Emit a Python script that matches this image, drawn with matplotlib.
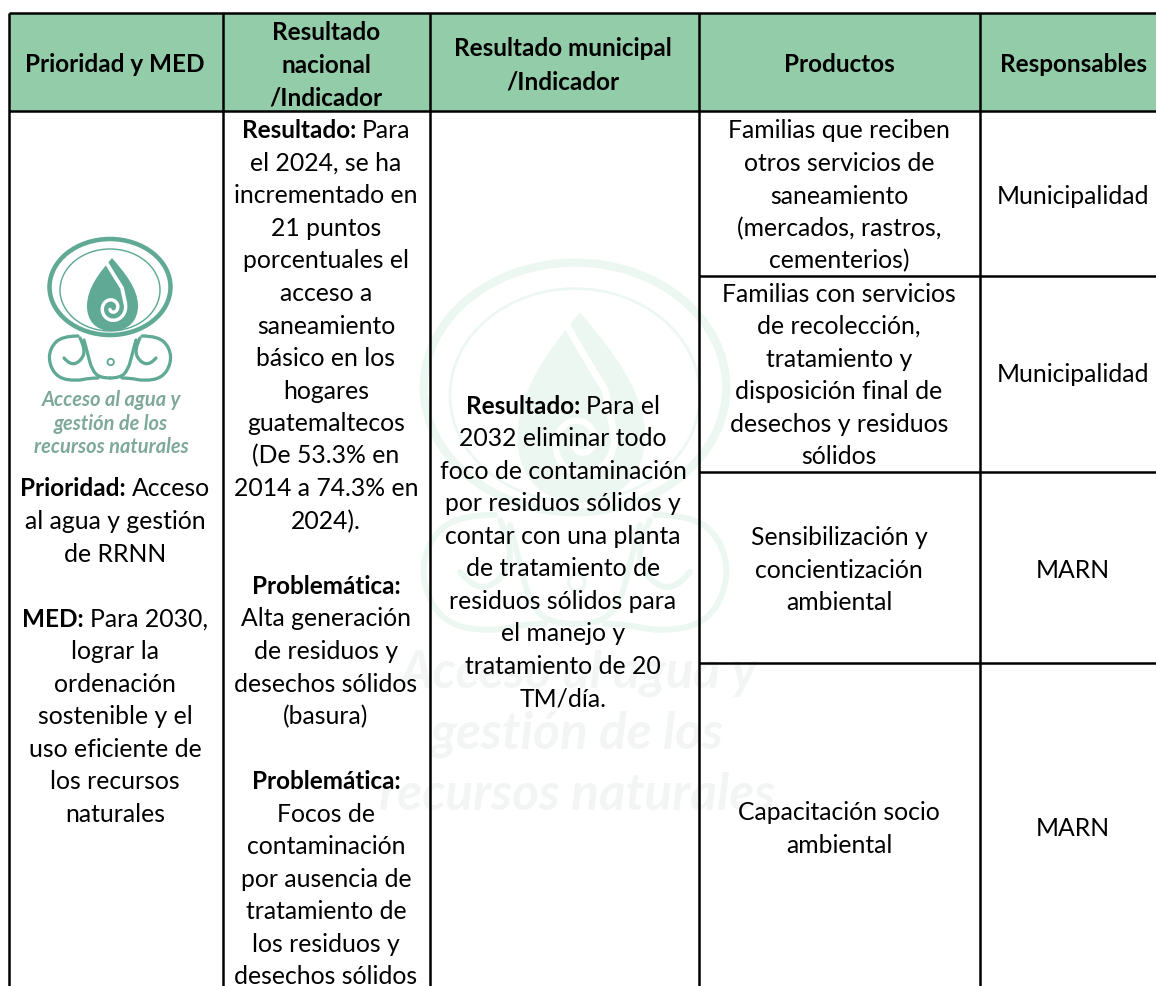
import numpy as np
import matplotlib
matplotlib.use('Agg')
import matplotlib.pyplot as plt
from matplotlib.path import Path
from matplotlib.patches import PathPatch, Ellipse, Rectangle

plt.rcParams['font.family'] = ['Lato', 'DejaVu Sans']

# table text
headers = [['Prioridad y MED'], ['Resultado', 'nacional', '/Indicador'],
           ['Resultado municipal', '/Indicador'], ['Productos'], ['Responsables']]
header_y = [[63], [31.7, 64.3, 97], [48, 81.5], [63], [63]]

prioridad = [('Prioridad:', 'Acceso'), 'al agua y gestión', 'de RRNN', '',
             ('MED:', 'Para 2030,'), 'lograr la', 'ordenación', 'sostenible y el',
             'uso eficiente de', 'los recursos', 'naturales']
nacional = [('Resultado:', 'Para'), 'el 2024, se ha', 'incrementado en', '21 puntos',
            'porcentuales el', 'acceso a', 'saneamiento', 'básico en los', 'hogares',
            'guatemaltecos', '(De 53.3% en', '2014 a 74.3% en', '2024).', '',
            ('Problemática:', ''), 'Alta generación', 'de residuos y', 'desechos sólidos',
            '(basura)', '', ('Problemática:', ''), 'Focos de', 'contaminación',
            'por ausencia de', 'tratamiento de', 'los residuos y', 'desechos sólidos']
municipal = [('Resultado:', 'Para el'), '2032 eliminar todo', 'foco de contaminación',
             'por residuos sólidos y', 'contar con una planta', 'de tratamiento de',
             'residuos sólidos para', 'el manejo y', 'tratamiento de 20', 'TM/día.']
productos = [['Familias que reciben', 'otros servicios de', 'saneamiento',
              '(mercados, rastros,', 'cementerios)'],
             ['Familias con servicios', 'de recolección,', 'tratamiento y',
              'disposición final de', 'desechos y residuos', 'sólidos'],
             ['Sensibilización y', 'concientización', 'ambiental'],
             ['Capacitación socio', 'ambiental']]
productos_y = [130, 293, 536.7, 812]
responsables = ['Municipalidad', 'Municipalidad', 'MARN', 'MARN']
responsables_y = [195, 374, 569, 828]
logo_text = ['Acceso al agua y', 'gestión de los', 'recursos naturales']

# layout in pixels
col_x = [8.5, 222.5, 430, 699, 980]
col_c = [115, 326, 563, 839, 1073]
row_y = [13, 111, 276, 472, 663]
line_h = 32.55
fs = 17.8
fs_head = 17.5
green = '#93CCA8'

fig = plt.figure(figsize=(11.56, 9.86), dpi=100)
ax = fig.add_axes([0, 0, 1, 1])
ax.set_xlim(0, 1156)
ax.set_ylim(986, 0)
ax.axis('off')
rend = fig.canvas.get_renderer()


def put_line(xc, y, line, size=fs, weight='normal'):
    base = y + 8.5
    if isinstance(line, tuple):
        b, r = line
        t1 = ax.text(0, base, b, fontsize=fs_head, fontweight='bold', color='black', va='baseline', zorder=5)
        w1 = t1.get_window_extent(rend).width
        if r:
            t2 = ax.text(0, base, r, fontsize=size, color='black', va='baseline', zorder=5)
            w2 = t2.get_window_extent(rend).width
            gap = 6
            x0 = xc - (w1 + gap + w2) / 2
            t1.set_x(x0)
            t2.set_x(x0 + w1 + gap)
        else:
            t1.set_x(xc - w1 / 2)
    elif line:
        ax.text(xc, base, line, fontsize=size, fontweight=weight, color='black',
                ha='center', va='baseline', zorder=5)


def draw_logo(cx, top, sx, sy, col, txt_col, fsize, lw_scale, z, text_dy=0):
    # shapes are given relative to the small logo, ring centre at (110, 287)
    def tr(x, y):
        return cx + (np.asarray(x, dtype=float) - 110) * sx, top + (np.asarray(y, dtype=float) - 238) * sy

    def ell(x, y, rx, ry, lw):
        xx, yy = tr(x, y)
        ax.add_patch(Ellipse((xx, yy), 2 * rx * sx, 2 * ry * sy, fc='none', ec=col, lw=lw * lw_scale, zorder=z))

    def curve(x, y, lw, c=col):
        xx, yy = tr(x, y)
        ax.plot(xx, yy, color=c, lw=lw * lw_scale, solid_capstyle='round', zorder=z)

    def smooth(pts, lw):
        # quadratic segments through the midpoints of the control points
        xx, yy = tr([p[0] for p in pts], [p[1] for p in pts])
        p = np.column_stack([xx, yy])
        verts = [p[0]]
        codes = [Path.MOVETO]
        for i in range(1, len(p) - 1):
            end = p[i + 1] if i == len(p) - 2 else (p[i] + p[i + 1]) / 2
            verts += [p[i], end]
            codes += [Path.CURVE3, Path.CURVE3]
        ax.add_patch(PathPatch(Path(verts, codes), fc='none', ec=col, lw=lw * lw_scale,
                               capstyle='round', zorder=z))

    ell(110, 287, 60.5, 48, 2.5)
    ell(110, 290, 50, 41, 0.8)
    # drop
    dx, dy = tr(np.array([112, 100, 87, 87, 87, 95, 112, 129, 138, 138, 138, 124, 112]),
                np.array([258, 272, 288, 306, 320, 331, 331, 331, 320, 306, 288, 272, 258]))
    codes = [Path.MOVETO] + [Path.CURVE4] * 12
    ax.add_patch(PathPatch(Path(np.column_stack([dx, dy]), codes), fc=col, ec='none', zorder=z))
    # white spiral in the drop
    a = np.linspace(-0.3, 4.6 * np.pi / 2 + 1.6, 80)
    r = 14 - 11.5 * (a - a[0]) / (a[-1] - a[0])
    sp_x = 112 + r * np.cos(a)
    sp_y = 308 + r * np.sin(a) * 1.05
    curve(np.r_[106, 112, 122, sp_x[0]], np.r_[262, 272, 288, sp_y[0]], 2.1, 'white')
    curve(sp_x, sp_y, 1.9, 'white')
    # scrolls and bell under the ring
    for sgn in (-1, 1):
        def m(pts):
            return [(110 + sgn * (110 - px), py) for px, py in pts]
        smooth(m([(78, 336), (62, 336), (50, 348), (49, 364), (58, 378), (76, 381),
                  (90, 378), (98, 378)]), 1.8)
        smooth(m([(80, 338), (86, 350), (80, 362), (70, 365), (64, 358)]), 1.8)
        smooth(m([(84, 340), (88, 355), (92, 370), (100, 378), (110, 378)]), 1.8)
    ell(110.7, 362, 3.2, 3.2, 1.0)
    # logo wording
    for i, s in enumerate(logo_text):
        xx, yy = tr(111, 400 + 23.5 * i)
        ax.text(xx, yy + text_dy, s, fontsize=fsize, fontweight='bold', fontstyle='italic',
                color=txt_col, ha='center', va='center', zorder=z)


# header band
ax.add_patch(Rectangle((col_x[0], row_y[0]), 1156 - col_x[0], row_y[1] - row_y[0], fc=green, ec='none', zorder=1))

# watermark, then small logo
draw_logo(575, 260, 2.5, 2.6, '#EDF7F2', '#F3F5F4', 37, 2.4, 2, text_dy=-8)
draw_logo(110, 238, 1, 1, '#5FA995', '#7EA99A', 14.4, 1.3, 3)

# grid lines
for x in col_x:
    ax.plot([x, x], [row_y[0], 986], color='black', lw=1.8, solid_capstyle='butt', zorder=4)
for y in row_y[:2]:
    ax.plot([col_x[0], 1156], [y, y], color='black', lw=1.8, solid_capstyle='butt', zorder=4)
for y in row_y[2:]:
    ax.plot([col_x[3], 1156], [y, y], color='black', lw=1.8, solid_capstyle='butt', zorder=4)

# header text
for xc, lines, ys in zip(col_c, headers, header_y):
    for s, y in zip(lines, ys):
        put_line(xc, y, s, size=fs_head, weight='bold')

# body text
for cells, xc, y0 in [(prioridad, col_c[0], 488), (nacional, col_c[1], 129.7), (municipal, col_c[2], 405)]:
    for i, s in enumerate(cells):
        put_line(xc, y0 + i * line_h, s)
for cells, y0 in zip(productos, productos_y):
    for i, s in enumerate(cells):
        put_line(col_c[3], y0 + i * line_h, s)
for s, y in zip(responsables, responsables_y):
    put_line(col_c[4], y, s)

fig.savefig('out.png', dpi=100)
